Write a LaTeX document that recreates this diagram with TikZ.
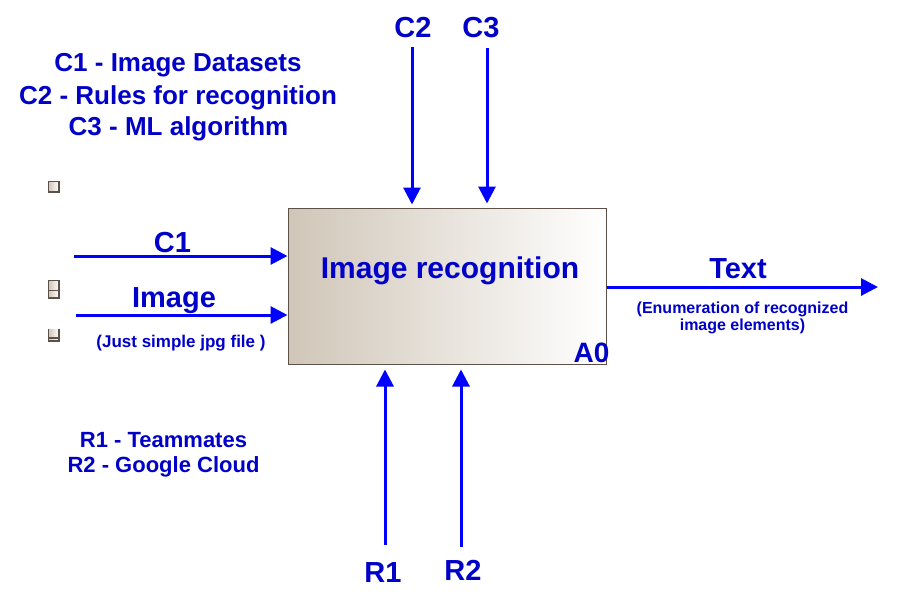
\documentclass[tikz,border=0pt]{standalone}
\usepackage{fontspec}
\setmainfont{Liberation Sans}
\usetikzlibrary{arrows.meta}
\definecolor{lblue}{RGB}{0,0,200}
\definecolor{ablue}{RGB}{0,0,255}
\definecolor{boxl}{RGB}{208,198,184}
\definecolor{boxb}{RGB}{92,80,72}
\begin{document}
\begin{tikzpicture}[x=1pt,y=-1pt,
  lbl/.style={text=lblue,font=\bfseries\fontsize{29}{34}\selectfont,anchor=base,inner sep=0pt},
  leg/.style={text=lblue,font=\bfseries\fontsize{26}{31}\selectfont,anchor=base,inner sep=0pt},
  legr/.style={text=lblue,font=\bfseries\fontsize{22}{26}\selectfont,anchor=base,inner sep=0pt},
  note/.style={text=lblue,font=\bfseries\fontsize{16}{19}\selectfont,anchor=base,inner sep=0pt},
  arr/.style={draw=ablue,line width=3pt,-{Triangle[length=17pt,width=17pt]}},
  handle/.style={draw=boxb,line width=1.2pt,left color=boxl,right color=white}]
\useasboundingbox (0,0) rectangle (900,603);
\fill[white] (0,0) rectangle (900,603);

% main box
\node[draw=boxb,line width=1pt,left color=boxl,right color=white,
      minimum width=318pt,minimum height=156pt,inner sep=0pt] (box) at (447,286) {};
\node[lbl,font=\bfseries\fontsize{30}{34}\selectfont] (title) at (450,278.3) {Image recognition};
\node[lbl,font=\bfseries\fontsize{28}{32}\selectfont] (a0) at (591.5,362.7) {A0};

% legends
\node[leg] (leg1) at (178,71.8) {C1 - Image Datasets};
\node[leg] (leg2) at (178,104) {C2 - Rules for recognition};
\node[leg] (leg3) at (178.5,135.6) {C3 - ML algorithm};
\node[legr] (legr1) at (163.5,447.3) {R1 - Teammates};
\node[legr] (legr2) at (163.5,472.3) {R2 - Google Cloud};

% left handles
\path[handle] (48.5,181.5) rectangle (59,192);
\path[handle] (48.5,280.5) rectangle (59,298);
\draw[boxb,line width=1.2pt] (48.5,290.5) -- (59,290.5);
\path[left color=boxl,right color=white] (48.5,329) rectangle (59,341);
\draw[boxb,line width=1.2pt] (48.5,329) -- (48.5,341) -- (59,341) -- (59,329);
\draw[boxb,line width=1.2pt] (48.5,338) -- (59,338);

% inputs
\coordinate (c1s) at (74,256);
\coordinate (ims) at (76,315);
\draw[arr] (c1s) -- (c1s -| box.west);
\draw[arr] (ims) -- (ims -| box.west);
\node[lbl] (c1l) at (172.5,252.5) {C1};
\node[lbl] (iml) at (174,307) {Image};
\node[note,font=\bfseries\fontsize{17}{20}\selectfont] (imn) at (181,347) {(Just simple jpg file )};

% controls
\coordinate (c2s) at (412,47);
\coordinate (c3s) at (487,48);
\draw[arr,shorten >=3pt] (c2s) -- (c2s |- box.north);
\draw[arr,shorten >=4pt] (c3s) -- (c3s |- box.north);
\node[lbl] (c2l) at (413,37.2) {C2};
\node[lbl] (c3l) at (481,37.2) {C3};

% mechanisms
\coordinate (r1s) at (385,545);
\coordinate (r2s) at (461,547);
\draw[arr,shorten >=5pt] (r1s) -- (r1s |- box.south);
\draw[arr,shorten >=5pt] (r2s) -- (r2s |- box.south);
\node[lbl] (r1l) at (383,582.7) {R1};
\node[lbl] (r2l) at (463,580.7) {R2};

% output
\coordinate (te) at (878,287);
\draw[arr] (te -| box.east) -- (te);
\node[lbl] (tl) at (738,278.3) {Text};
\node[note] (tn1) at (742.5,313.3) {(Enumeration of recognized};
\node[note] (tn2) at (742.5,330.5) {image elements)};
\end{tikzpicture}
\end{document}
